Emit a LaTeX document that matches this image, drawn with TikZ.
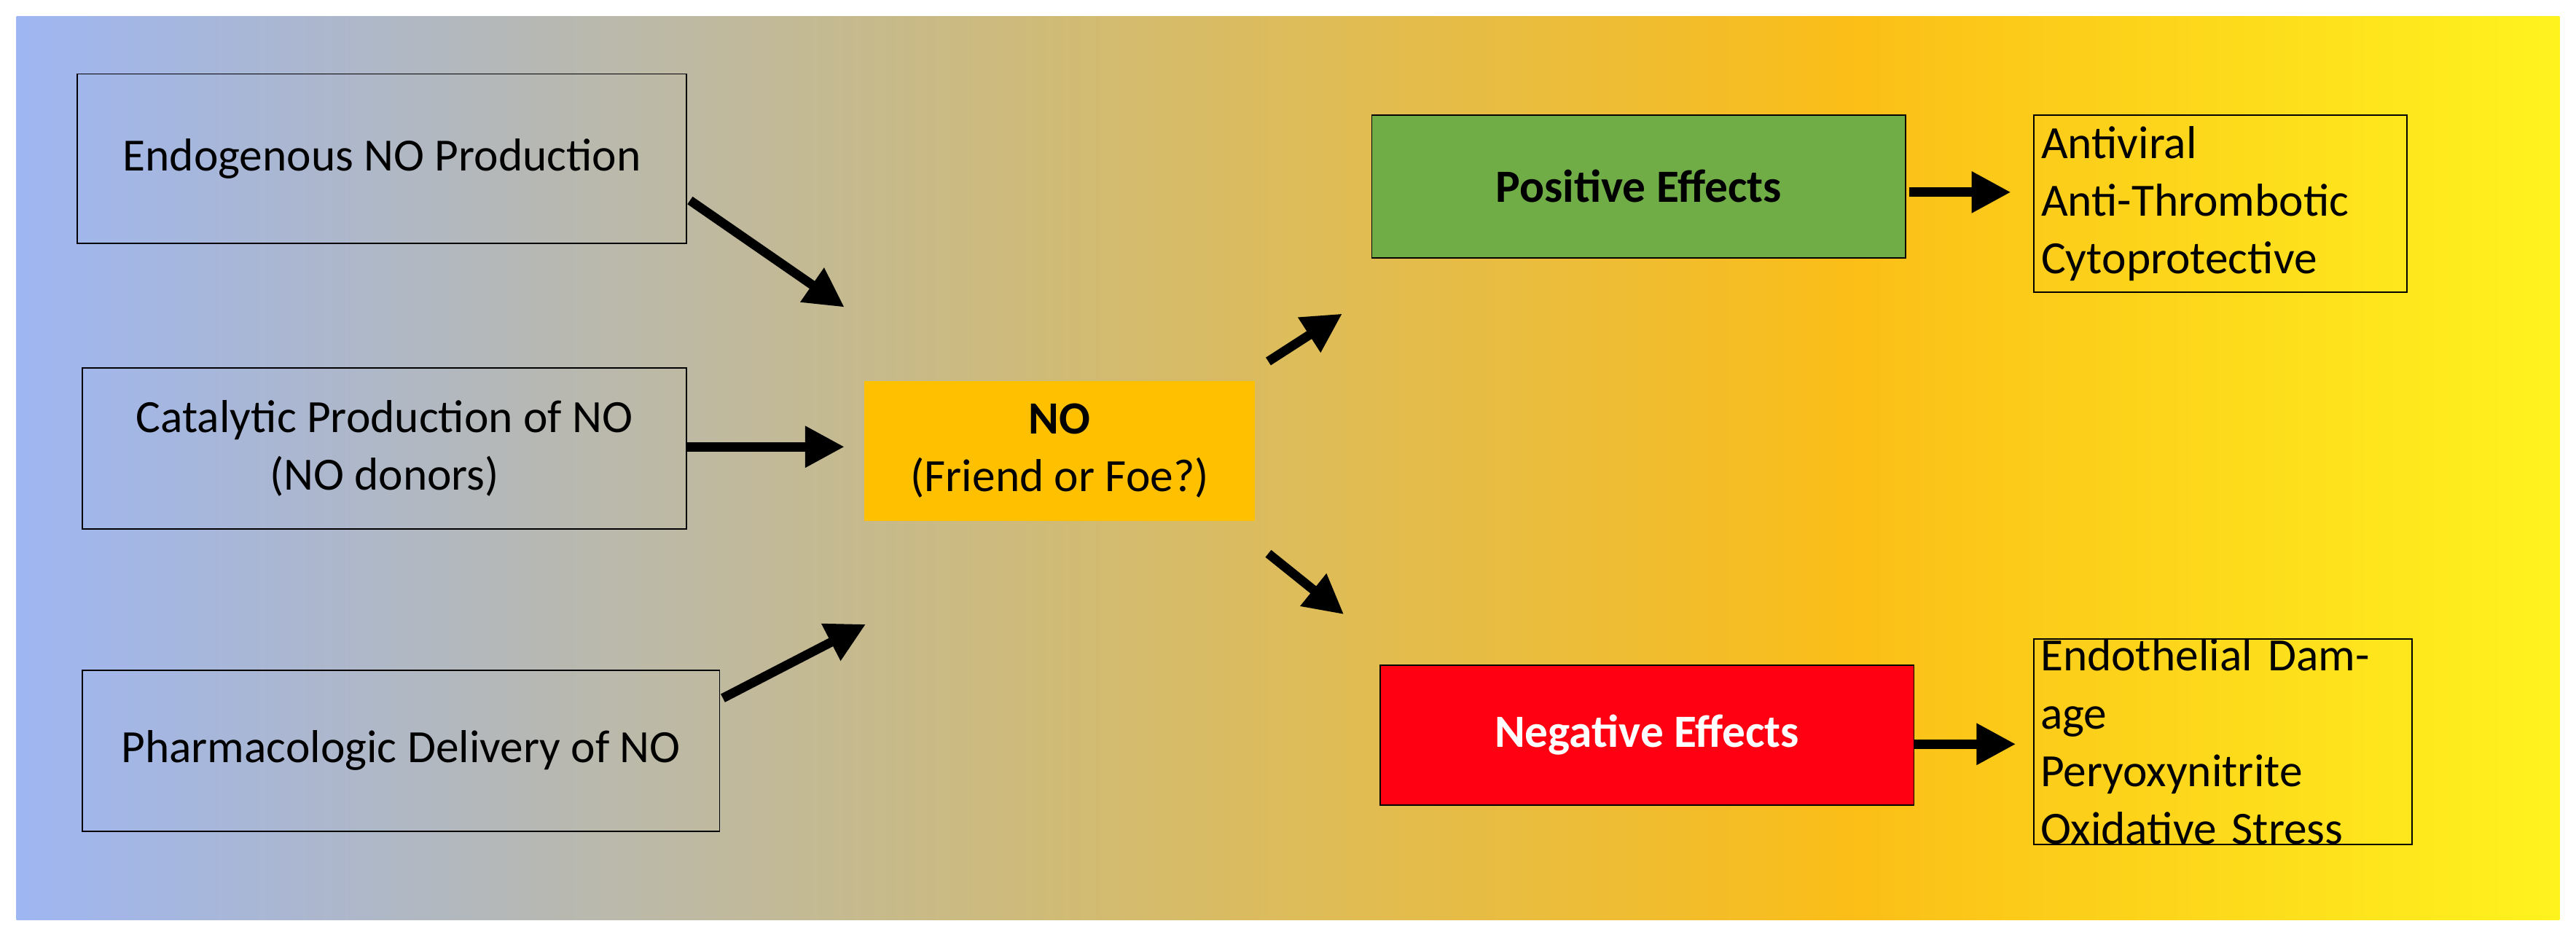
\documentclass[tikz,border=0pt]{standalone}
\usepackage{fontspec}
\setmainfont{Carlito}
\usetikzlibrary{arrows.meta}
\definecolor{cA}{HTML}{9EB6F2}
\definecolor{cB}{HTML}{C8BA88}
\definecolor{cC}{HTML}{FBBE18}
\definecolor{cD}{HTML}{FFF31E}
\definecolor{orng}{HTML}{FFC000}
\definecolor{grn}{HTML}{70AD47}
\definecolor{rd}{HTML}{FF0012}
\pgfdeclarehorizontalshading{bg}{100bp}{color(0bp)=(cA); color(25bp)=(cA); color(42.5bp)=(cB); color(61bp)=(cC); color(75bp)=(cD); color(100bp)=(cD)}
\begin{document}
\begin{tikzpicture}[x=0.5mm,y=-0.5mm,
  box/.style={draw=black,line width=1.2pt,inner sep=0pt,font=\fontsize{40}{50}\selectfont},
  arr/.style={line width=8pt,-{Triangle[length=34pt,width=34pt]}}]
\useasboundingbox (0,0) rectangle (1568,570);
\shade[shading=bg] (10,10) rectangle (1558,560);
\node[box,anchor=center,minimum width=185.5mm,minimum height=51.5mm] (e) at (232.5,96.5) {Endogenous NO Production};
\node[box,anchor=center,minimum width=184mm,minimum height=49mm,align=center] (c) at (234,273) {Catalytic Production of NO\\(NO donors)};
\node[box,anchor=center,minimum width=194mm,minimum height=49mm] (p) at (244,457) {Pharmacologic Delivery of NO};
\node[box,draw=none,fill=orng,anchor=center,minimum width=119mm,minimum height=42.5mm,align=center] (no) at (645,274.5) {\textbf{NO}\\(Friend or Foe?)};
\node[box,fill=grn,anchor=center,minimum width=162.5mm,minimum height=43.5mm] (pos) at (997.5,113.5) {\textbf{Positive Effects}};
\node[box,fill=rd,text=white,anchor=center,minimum width=162.5mm,minimum height=42.5mm] (neg) at (1002.5,447.5) {\textbf{Negative Effects}};
\node[box,anchor=center,minimum width=113.5mm,minimum height=54mm,align=left,text width=109mm] (pe) at (1351.5,124) {Antiviral\\Anti-Thrombotic\\Cytoprotective};
\node[box,anchor=center,minimum width=115mm,minimum height=53.5mm,align=left,text width=111mm] (ne) at (1353,451.5) {Endothelial Damage\\Peryoxynitrite\\Oxidative Stress};
\coordinate (a1s) at (420,122); \coordinate (a1e) at (514,187);
\coordinate (a2s) at (418,272); \coordinate (a2e) at (514,272);
\coordinate (a3s) at (440,425); \coordinate (a3e) at (527,380);
\coordinate (a4s) at (772,220); \coordinate (a4e) at (817,191);
\coordinate (a5s) at (772,337); \coordinate (a5e) at (818,374);
\coordinate (a6s) at (1162,117); \coordinate (a6e) at (1224,117);
\coordinate (a7s) at (1165,453); \coordinate (a7e) at (1227,453);
\foreach \i in {1,...,7} \draw[arr] (a\i s) -- (a\i e);
\end{tikzpicture}
\end{document}
